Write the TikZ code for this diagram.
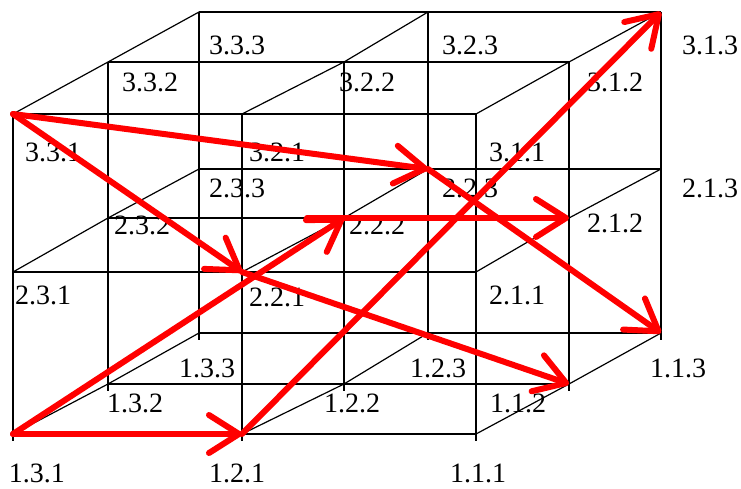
\documentclass[tikz,border=0pt]{standalone}
\usepackage{fontspec}
\setmainfont{Liberation Serif}
\usetikzlibrary{arrows.meta}
\begin{document}
\begin{tikzpicture}[x=1pt,y=-1pt,
  gridline/.style={line width=1.2pt,black},
  lab/.style={font=\fontsize{28}{32}\selectfont, inner sep=0pt},
  arr/.style={draw=red, line width=6pt, line cap=round, line join=round,
    -{Straight Barb[length=30pt,width=38pt,round]}}]
\useasboundingbox (0,0) rectangle (741,489);
% grid points p<level><column><depth>
\foreach \a/\ya/\yb/\yc in {3/114/62/12, 2/272/218/169, 1/434/384/333}{
  \foreach \b/\xa/\xb/\xc in {3/13/108/199, 2/242/344/428, 1/476/569/661}{
    \coordinate (p\a\b1) at (\xa,\ya);
    \coordinate (p\a\b2) at (\xb,\yb);
    \coordinate (p\a\b3) at (\xc,\yc);
  }
}
% horizontals
\foreach \a in {1,2,3}{\foreach \c in {1,2,3}{\draw[gridline] (p\a3\c) -- (p\a2\c) -- (p\a1\c);}}
% obliques
\foreach \a in {1,2,3}{\foreach \b in {1,2,3}{\draw[gridline] (p\a\b1) -- (p\a\b2) -- (p\a\b3);}}
% verticals
\foreach \b in {1,2,3}{\foreach \c in {1,2,3}{\draw[gridline] (p3\b\c) -- (p2\b\c) -- (p1\b\c) -- ++(0,7);}}
% labels
\node[lab] (l333) at (237,45) {3.3.3};
\node[lab] (l332) at (150,82) {3.3.2};
\node[lab] (l331) at (53,152) {3.3.1};
\node[lab] (l323) at (470,45) {3.2.3};
\node[lab] (l322) at (367,82) {3.2.2};
\node[lab] (l321) at (277,152) {3.2.1};
\node[lab] (l313) at (710,45) {3.1.3};
\node[lab] (l312) at (615,82) {3.1.2};
\node[lab] (l311) at (517,152) {3.1.1};
\node[lab] (l233) at (237,188) {2.3.3};
\node[lab] (l232) at (142,225) {2.3.2};
\node[lab] (l231) at (43,295) {2.3.1};
\node[lab] (l223) at (470,188) {2.2.3};
\node[lab] (l222) at (377,225) {2.2.2};
\node[lab] (l221) at (277,297) {2.2.1};
\node[lab] (l213) at (710,188) {2.1.3};
\node[lab] (l212) at (615,223) {2.1.2};
\node[lab] (l211) at (517,295) {2.1.1};
\node[lab] (l133) at (207,368) {1.3.3};
\node[lab] (l132) at (135,403) {1.3.2};
\node[lab] (l131) at (37,473) {1.3.1};
\node[lab] (l123) at (438,368) {1.2.3};
\node[lab] (l122) at (352,403) {1.2.2};
\node[lab] (l121) at (237,473) {1.2.1};
\node[lab] (l113) at (678,368) {1.1.3};
\node[lab] (l112) at (518,403) {1.1.2};
\node[lab] (l111) at (478,473) {1.1.1};
% red path
\coordinate (h0) at (307,218);
\draw[arr] (p131) -- (p121);
\draw[arr] (p131) -- (p222);
\draw[arr] (p121) -- (p313);
\draw[arr] (p331) -- (p221);
\draw[arr] (p331) -- (p223);
\draw[arr] (h0) -- (p212);
\draw[arr] (p223) -- (p113);
\draw[arr] (p221) -- (p112);
\end{tikzpicture}
\end{document}
